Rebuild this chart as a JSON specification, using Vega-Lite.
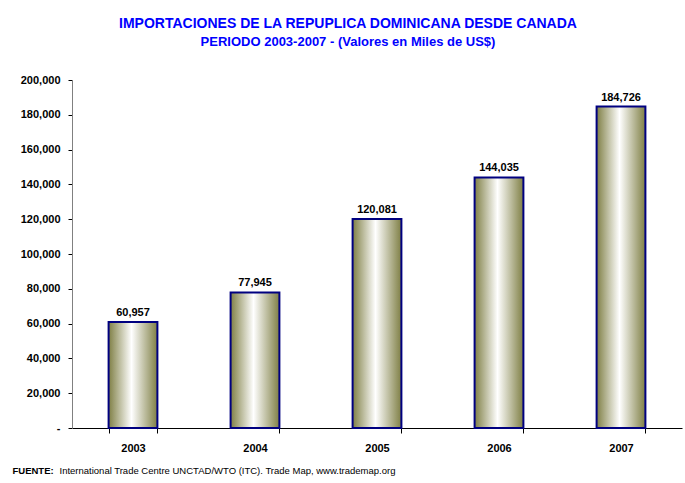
{
  "$schema": "https://vega.github.io/schema/vega-lite/v6.json",
  "width": 610,
  "height": 348,
  "autosize": "none",
  "padding": {"left": 72, "top": 80, "right": 3, "bottom": 55},
  "background": "white",
  "config": {"view": {"stroke": null}, "font": "Liberation Sans"},
  "title": {
    "text": "IMPORTACIONES DE LA REPUPLICA DOMINICANA DESDE CANADA",
    "subtitle": "PERIODO 2003-2007 - (Valores en Miles de US$)",
    "font": "Liberation Sans",
    "fontSize": 14,
    "fontWeight": "bold",
    "color": "#0000ff",
    "subtitleFont": "Liberation Sans",
    "subtitleFontSize": 13,
    "subtitleFontWeight": "bold",
    "subtitleColor": "#0000ff",
    "subtitlePadding": 5,
    "anchor": "middle",
    "frame": "group",
    "dx": -29,
    "offset": 25
  },
  "data": {
    "values": [
      {"year": "2003", "value": 60957},
      {"year": "2004", "value": 77945},
      {"year": "2005", "value": 120081},
      {"year": "2006", "value": 144035},
      {"year": "2007", "value": 184726}
    ]
  },
  "encoding": {
    "x": {
      "field": "year",
      "type": "ordinal",
      "scale": {"paddingInner": 0.6, "paddingOuter": 0.3},
      "axis": {
        "labelAngle": 0,
        "labelFont": "Liberation Sans",
        "labelFontSize": 11,
        "labelFontWeight": "bold",
        "labelColor": "#000000",
        "labelPadding": 9,
        "tickBand": "extent",
        "tickSize": 5,
        "tickColor": "#000000",
        "domainColor": "#000000",
        "title": "International Trade Centre UNCTAD/WTO (ITC). Trade Map, www.trademap.org",
        "titleFont": "Liberation Sans",
        "titleFontSize": 9.5,
        "titleFontWeight": "normal",
        "titleColor": "#000000",
        "titleX": -13,
        "titleY": 45,
        "titleAlign": "left",
        "titleAnchor": "start",
        "titleBaseline": "alphabetic"
      }
    },
    "y": {
      "field": "value",
      "type": "quantitative",
      "scale": {"domain": [0, 200000], "nice": false},
      "axis": {
        "values": [0, 20000, 40000, 60000, 80000, 100000, 120000, 140000, 160000, 180000, 200000],
        "labelExpr": "datum.value == 0 ? '-' : format(datum.value, ',')",
        "labelFont": "Liberation Sans",
        "labelFontSize": 11,
        "labelFontWeight": "bold",
        "labelColor": "#000000",
        "labelPadding": 8,
        "tickSize": 4,
        "tickColor": "#000000",
        "domainColor": "#808080",
        "grid": false,
        "title": "FUENTE:",
        "titleFont": "Liberation Sans",
        "titleFontSize": 9.5,
        "titleFontWeight": "bold",
        "titleColor": "#000000",
        "titleAngle": 0,
        "titleX": -60,
        "titleY": 393,
        "titleAlign": "left",
        "titleAnchor": "start",
        "titleBaseline": "alphabetic"
      }
    }
  },
  "layer": [
    {
      "mark": {
        "type": "bar",
        "stroke": "#000080",
        "strokeWidth": 2,
        "color": {
          "gradient": "linear",
          "x1": 0, "y1": 0, "x2": 1, "y2": 0,
          "stops": [
            {"offset": 0, "color": "#7f7f45"},
            {"offset": 0.47, "color": "#ffffff"},
            {"offset": 1, "color": "#7f7f45"}
          ]
        }
      }
    },
    {
      "mark": {
        "type": "text",
        "baseline": "alphabetic",
        "dy": -6,
        "font": "Liberation Sans",
        "fontSize": 11,
        "fontWeight": "bold",
        "color": "#000000"
      },
      "encoding": {
        "text": {"field": "value", "type": "quantitative", "format": ","}
      }
    }
  ]
}
